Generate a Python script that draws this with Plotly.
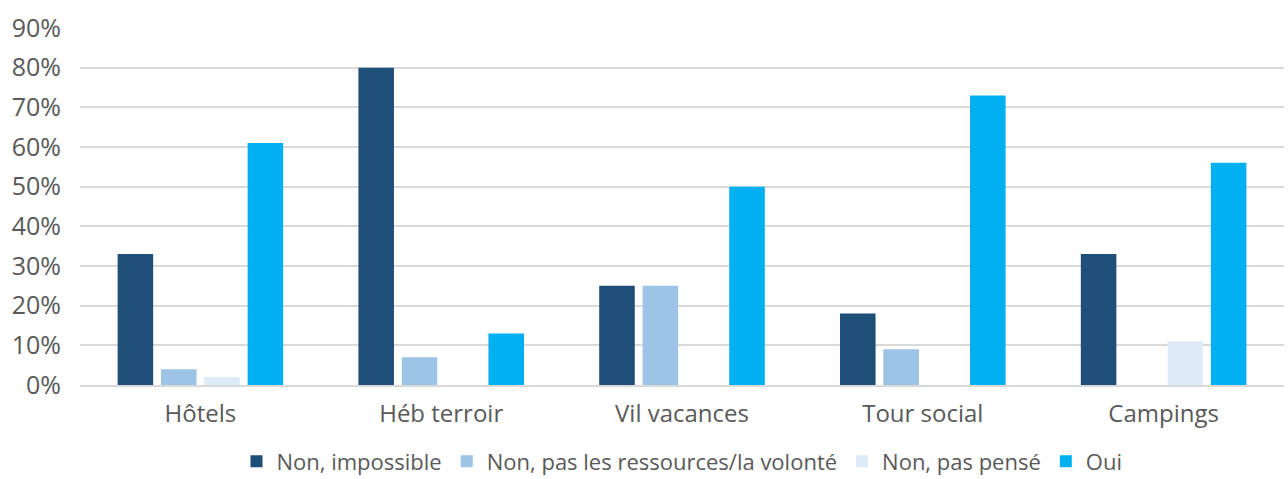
import plotly.graph_objects as go

categories = ["Hôtels", "Héb terroir", "Vil vacances", "Tour social", "Campings"]
series_names = ["Non, impossible", "Non, pas les ressources/la volonté", "Non, pas pensé", "Oui"]
non_impossible = [33, 80, 25, 18, 33]
non_ressources = [4, 7, 25, 9, 0]
non_pense = [2, 0, 0, 0, 11]
oui = [61, 13, 50, 73, 56]
tick_vals = [0, 10, 20, 30, 40, 50, 60, 70, 80, 90]
tick_text = [f"{v}%" for v in tick_vals]

colors = ["#1F4E79", "#9DC3E6", "#DDEBF7", "#00B0F0"]
values = [non_impossible, non_ressources, non_pense, oui]

fig = go.Figure()
for name, vals, col in zip(series_names, values, colors):
    fig.add_trace(go.Bar(x=categories, y=vals, name=name, marker=dict(color=col, line=dict(width=0))))

fig.update_layout(
    width=1288, height=479,
    margin=dict(l=80, r=4, t=28, b=94, autoexpand=False),
    paper_bgcolor="white", plot_bgcolor="white",
    barmode="group", bargap=0.28, bargroupgap=0.18,
    font=dict(family="Open Sans, Lato, sans-serif", color="#595959", size=23),
    yaxis=dict(range=[0, 90], tickvals=tick_vals, ticktext=tick_text, automargin=False,
               showgrid=True, gridcolor="#D9D9D9", gridwidth=1.5, zeroline=False,
               showline=False, ticks="", ticklabelstandoff=18,
               tickfont=dict(size=25, color="#595959")),
    xaxis=dict(showgrid=False, showline=True, linecolor="#D9D9D9", linewidth=1.5,
               ticks="", automargin=False, ticklabelstandoff=6,
               tickfont=dict(size=24, color="#595959")),
    legend=dict(orientation="h", x=0.5, xanchor="center", y=-0.155, yanchor="top",
                font=dict(size=22, color="#595959"), itemwidth=30, traceorder="normal",
                tracegroupgap=0),
)

fig.write_html("out.html", config={"displayModeBar": False},
               post_script="document.body.style.margin='0';document.body.style.padding='0';")
